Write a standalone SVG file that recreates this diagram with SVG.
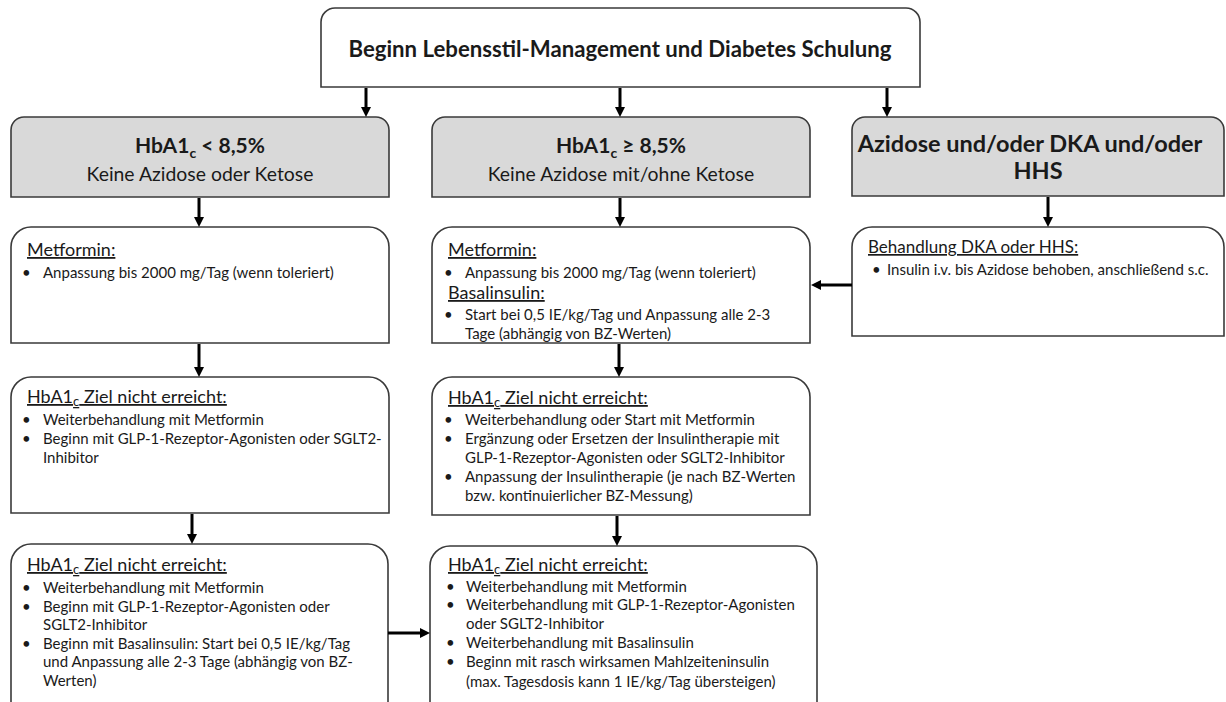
<svg xmlns="http://www.w3.org/2000/svg" width="1226" height="702" viewBox="0 0 1226 702">
<style>
.box{fill:#fff;stroke:#3a3a3a;stroke-width:1.6}
.grey{fill:#d9d9d9;stroke:#3a3a3a;stroke-width:1.6}
text{font-family:Lato,"Liberation Sans",sans-serif;fill:#1a1a1a}
.title{font-size:22.2px;font-weight:bold;text-anchor:middle}
.hd{font-size:21px;font-weight:bold;text-anchor:middle}
.hd2{font-size:23.5px;font-weight:bold;text-anchor:middle}
.sub{font-size:19.4px;text-anchor:middle}
.h{font-size:18px;text-decoration:underline}
.hr{font-size:17px;text-decoration:underline}
.b{font-size:15px}
.conn{stroke:#000;stroke-width:3;fill:none;marker-end:url(#ah)}
</style>
<defs>
<marker id="ah" viewBox="0 0 10 10" refX="1" refY="5" markerWidth="10" markerHeight="10" markerUnits="userSpaceOnUse" orient="auto">
<path d="M0,0 L10,5 L0,10 z" fill="#000"/>
</marker>
</defs>

<g id="start">
<path class="box" d="M321,87 V22 A14 14 0 0 1 335,8 H906 A14 14 0 0 1 920,22 V87 Z"/>
<text class="title" x="620" y="57">Beginn Lebensstil-Management und Diabetes Schulung</text>
</g>

<g id="low">
<path class="grey" d="M11,197 V130 A13 13 0 0 1 24,117 H376 A13 13 0 0 1 389,130 V197 Z"/>
<text class="hd" x="200" y="153">HbA1<tspan font-size="14" dy="5">c</tspan><tspan dy="-5"> &lt; 8,5%</tspan></text>
<text class="sub" x="200" y="181">Keine Azidose oder Ketose</text>
</g>

<g id="high">
<path class="grey" d="M432,197 V130 A13 13 0 0 1 445,117 H797 A13 13 0 0 1 810,130 V197 Z"/>
<text class="hd" x="621" y="153">HbA1<tspan font-size="14" dy="5">c</tspan><tspan dy="-5"> ≥ 8,5%</tspan></text>
<text class="sub" x="621" y="181">Keine Azidose mit/ohne Ketose</text>
</g>

<g id="acid">
<path class="grey" d="M852,196 V130 A13 13 0 0 1 865,117 H1211 A13 13 0 0 1 1224,130 V196 Z"/>
<text class="hd2" x="1030" y="152">Azidose und/oder DKA und/oder</text>
<text class="hd2" x="1038" y="179">HHS</text>
</g>

<g id="low1">
<path class="box" d="M11,343 V247 A20 20 0 0 1 31,227 H369 A20 20 0 0 1 389,247 V343 Z"/>
<text class="h" x="27" y="256">Metformin:</text>
<text class="b" x="22" y="278">•</text><text class="b" x="43" y="278">Anpassung bis 2000 mg/Tag (wenn toleriert)</text>
</g>

<g id="high1">
<path class="box" d="M432,343 V247 A20 20 0 0 1 452,227 H790 A20 20 0 0 1 810,247 V343 Z"/>
<text class="h" x="448" y="256">Metformin:</text>
<text class="b" x="444" y="278">•</text><text class="b" x="465" y="278">Anpassung bis 2000 mg/Tag (wenn toleriert)</text>
<text class="h" x="448" y="299">Basalinsulin:</text>
<text class="b" x="444" y="320">•</text><text class="b" x="465" y="320">Start bei 0,5 IE/kg/Tag und Anpassung alle 2-3</text>
<text class="b" x="465" y="339">Tage (abhängig von BZ-Werten)</text>
</g>

<g id="acid1">
<path class="box" d="M852,336 V247 A20 20 0 0 1 872,227 H1204 A20 20 0 0 1 1224,247 V336 Z"/>
<text class="hr" x="868" y="253">Behandlung DKA oder HHS:</text>
<text class="b" x="872" y="275">•</text><text class="b" x="887" y="275">Insulin i.v. bis Azidose behoben, anschließend s.c.</text>
</g>

<g id="low2">
<path class="box" d="M11,513 V397 A20 20 0 0 1 31,377 H369 A20 20 0 0 1 389,397 V513 Z"/>
<text class="h" x="27" y="403">HbA1<tspan font-size="13" dy="3">c</tspan><tspan dy="-3"> Ziel nicht erreicht:</tspan></text>
<text class="b" x="22" y="425">•</text><text class="b" x="43" y="425">Weiterbehandlung mit Metformin</text>
<text class="b" x="22" y="444">•</text><text class="b" x="43" y="444">Beginn mit GLP-1-Rezeptor-Agonisten oder SGLT2-</text>
<text class="b" x="43" y="463">Inhibitor</text>
</g>

<g id="high2">
<path class="box" d="M432,515 V397 A20 20 0 0 1 452,377 H790 A20 20 0 0 1 810,397 V515 Z"/>
<text class="h" x="448" y="404">HbA1<tspan font-size="13" dy="3">c</tspan><tspan dy="-3"> Ziel nicht erreicht:</tspan></text>
<text class="b" x="444" y="425">•</text><text class="b" x="465" y="425">Weiterbehandlung oder Start mit Metformin</text>
<text class="b" x="444" y="444">•</text><text class="b" x="465" y="444">Ergänzung oder Ersetzen der Insulintherapie mit</text>
<text class="b" x="465" y="463">GLP-1-Rezeptor-Agonisten oder SGLT2-Inhibitor</text>
<text class="b" x="444" y="482">•</text><text class="b" x="465" y="482">Anpassung der Insulintherapie (je nach BZ-Werten</text>
<text class="b" x="465" y="501">bzw. kontinuierlicher BZ-Messung)</text>
</g>

<g id="low3">
<path class="box" d="M11,710 V564 A20 20 0 0 1 31,544 H368 A20 20 0 0 1 388,564 V710 Z"/>
<text class="h" x="27" y="571">HbA1<tspan font-size="13" dy="3">c</tspan><tspan dy="-3"> Ziel nicht erreicht:</tspan></text>
<text class="b" x="22" y="593">•</text><text class="b" x="43" y="593">Weiterbehandlung mit Metformin</text>
<text class="b" x="22" y="612">•</text><text class="b" x="43" y="612">Beginn mit GLP-1-Rezeptor-Agonisten oder</text>
<text class="b" x="43" y="630">SGLT2-Inhibitor</text>
<text class="b" x="22" y="649">•</text><text class="b" x="43" y="649">Beginn mit Basalinsulin: Start bei 0,5 IE/kg/Tag</text>
<text class="b" x="43" y="667">und Anpassung alle 2-3 Tage (abhängig von BZ-</text>
<text class="b" x="43" y="686">Werten)</text>
</g>

<g id="high3">
<path class="box" d="M430,710 V566 A20 20 0 0 1 450,546 H797 A20 20 0 0 1 817,566 V710 Z"/>
<text class="h" x="448" y="571">HbA1<tspan font-size="13" dy="3">c</tspan><tspan dy="-3"> Ziel nicht erreicht:</tspan></text>
<text class="b" x="446" y="592">•</text><text class="b" x="466" y="592">Weiterbehandlung mit Metformin</text>
<text class="b" x="446" y="610">•</text><text class="b" x="466" y="610">Weiterbehandlung mit GLP-1-Rezeptor-Agonisten</text>
<text class="b" x="466" y="629">oder SGLT2-Inhibitor</text>
<text class="b" x="446" y="648">•</text><text class="b" x="466" y="648">Weiterbehandlung mit Basalinsulin</text>
<text class="b" x="446" y="667">•</text><text class="b" x="466" y="667">Beginn mit rasch wirksamen Mahlzeiteninsulin</text>
<text class="b" x="466" y="687">(max. Tagesdosis kann 1 IE/kg/Tag übersteigen)</text>
</g>

<g id="connectors">
<line class="conn" x1="366" y1="88" x2="366" y2="108"/>
<line class="conn" x1="620" y1="88" x2="620" y2="108"/>
<line class="conn" x1="887" y1="88" x2="887" y2="108"/>
<line class="conn" x1="199" y1="198" x2="199" y2="218"/>
<line class="conn" x1="620" y1="198" x2="620" y2="218"/>
<line class="conn" x1="1048" y1="197" x2="1048" y2="218"/>
<line class="conn" x1="852" y1="285" x2="820" y2="285"/>
<line class="conn" x1="199" y1="344" x2="199" y2="368"/>
<line class="conn" x1="619" y1="344" x2="619" y2="368"/>
<line class="conn" x1="192" y1="514" x2="192" y2="535"/>
<line class="conn" x1="617" y1="516" x2="617" y2="537"/>
<line class="conn" x1="388" y1="633" x2="421" y2="633"/>
</g>
</svg>
